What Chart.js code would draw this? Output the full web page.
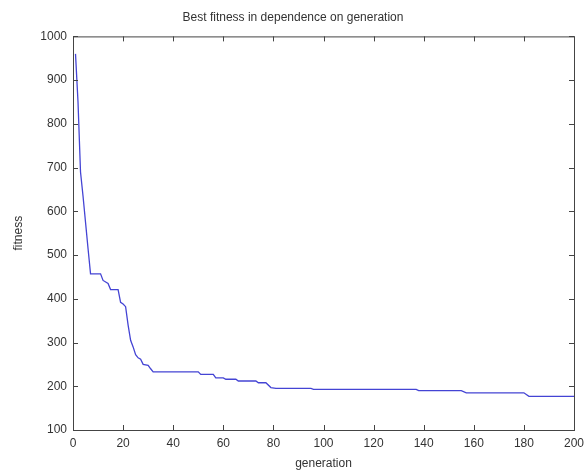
<!DOCTYPE html>
<html>
<head>
<meta charset="utf-8">
<script src="https://cdn.jsdelivr.net/npm/chart.js@4"></script>
<style>
  html, body { margin: 0; padding: 0; background: #fff; }
  #wrap { width: 586px; height: 471px; }
</style>
</head>
<body>
<div id="wrap"><canvas id="chart" width="586" height="471"></canvas></div>
<script>
// best fitness per generation (at the change points)
const generation = [1, 2, 3, 4, 5, 6, 7, 11, 12, 14, 15, 18, 19, 20, 21, 22, 23, 24, 25, 26, 27, 28, 30, 31, 32,
    50, 51, 56, 57, 60, 61, 65, 66, 73, 74, 77, 79, 81, 95, 96, 137, 138, 155, 157, 180, 182, 200];
const fitness = [960, 850, 690, 635, 575, 515, 457, 457, 442, 435, 421, 421, 392, 388, 382, 340, 305, 290, 272, 265, 262, 250, 248, 240, 233,
    233, 227, 227, 219, 219, 216, 216, 212, 212, 208, 208, 197, 195, 195, 193, 193, 190, 190, 185, 185, 177, 177];

const xTicks = [0, 20, 40, 60, 80, 100, 120, 140, 160, 180, 200];
const yTicks = [100, 200, 300, 400, 500, 600, 700, 800, 900, 1000];

const axisColor = '#444';
const textColor = '#333';
const font = { family: '"Liberation Sans", Arial, sans-serif', size: 12 };

// matlab style box with inward ticks on all four sides
const boxPlugin = {
    id: 'box',
    afterDraw(chart) {
        const { ctx, chartArea: a, scales } = chart;
        ctx.save();
        ctx.strokeStyle = axisColor;
        ctx.lineWidth = 1;
        ctx.strokeRect(a.left + 0.5, a.top + 0.5, a.right - a.left, a.bottom - a.top);
        const len = 5;
        ctx.beginPath();
        scales.x.ticks.forEach((t, i) => {
            const px = Math.round(scales.x.getPixelForTick(i)) + 0.5;
            ctx.moveTo(px, a.bottom); ctx.lineTo(px, a.bottom - len);
            ctx.moveTo(px, a.top); ctx.lineTo(px, a.top + len);
        });
        scales.y.ticks.forEach((t, i) => {
            const py = Math.round(scales.y.getPixelForTick(i)) + 0.5;
            ctx.moveTo(a.left, py); ctx.lineTo(a.left + len, py);
            ctx.moveTo(a.right, py); ctx.lineTo(a.right - len, py);
        });
        ctx.stroke();
        ctx.restore();
    }
};

const chart = document.querySelector('#chart').getContext('2d');

new Chart(chart, {
    type: 'line',
    data: {
        datasets: [
            {
                label: 'best fitness',
                data: generation.map((g, i) => ({ x: g, y: fitness[i] })),
                borderColor: '#4444d4',
                borderWidth: 1.3,
                pointRadius: 0,
                tension: 0
            }
        ]
    },
    options: {
        responsive: false,
        animation: false,
        layout: { padding: 0 },
        plugins: {
            legend: { display: false },
            tooltip: { enabled: false },
            title: {
                display: true,
                text: 'Best fitness in dependence on generation',
                color: textColor,
                font: { ...font, weight: 'normal' },
                padding: { top: 10, bottom: 12 }
            }
        },
        scales: {
            x: {
                type: 'linear',
                min: 0,
                max: 200,
                afterBuildTicks: s => { s.ticks = xTicks.map(v => ({ value: v })); },
                afterFit: s => { s.height = 41; s.paddingRight = 12; s.paddingLeft = 0; },
                grid: { display: false, drawTicks: false },
                border: { display: false },
                ticks: { color: textColor, font, padding: 6, maxRotation: 0, callback: v => String(v) },
                title: { display: true, text: 'generation', color: textColor, font, padding: { top: 1, bottom: 0 } }
            },
            y: {
                type: 'linear',
                min: 100,
                max: 1000,
                afterBuildTicks: s => { s.ticks = yTicks.map(v => ({ value: v })); },
                afterFit: s => { s.width = 73; },
                grid: { display: false, drawTicks: false },
                border: { display: false },
                ticks: { color: textColor, font, padding: 6, callback: v => String(v) },
                title: { display: true, text: 'fitness', color: textColor, font, padding: { top: 11, bottom: 0 } }
            }
        }
    },
    plugins: [boxPlugin]
});
</script>
</body>
</html>
